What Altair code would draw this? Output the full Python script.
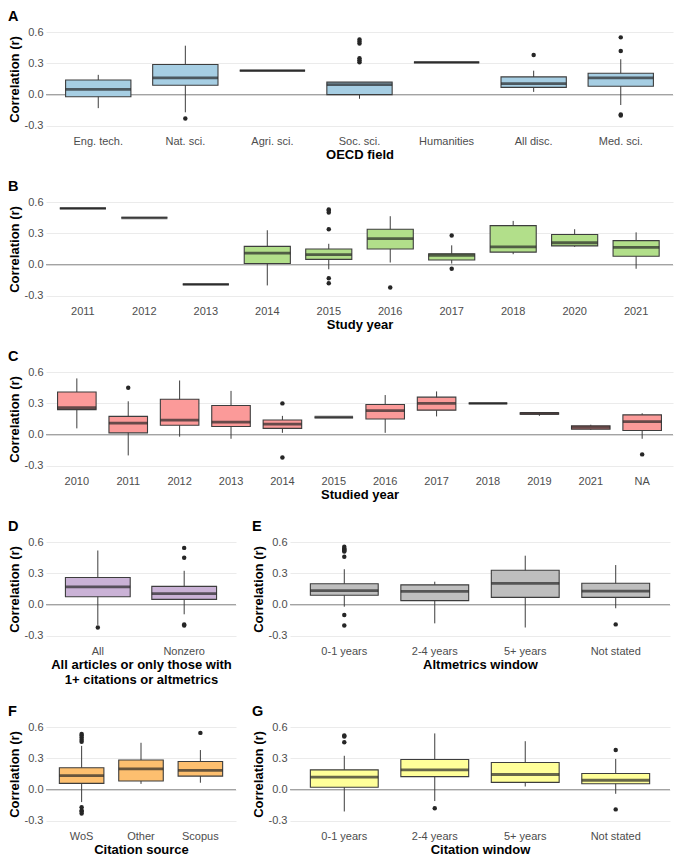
import altair as alt
import pandas as pd

# ---------------- Panel A: OECD field ----------------
a_cats = ["Eng. tech.", "Nat. sci.", "Agri. sci.", "Soc. sci.", "Humanities", "All disc.", "Med. sci."]
a_lo = [-0.13, -0.17, 0.23, -0.04, 0.31, 0.026, -0.10]
a_q1 = [-0.02, 0.09, 0.23, 0.0, 0.31, 0.07, 0.08]
a_med = [0.05, 0.16, 0.23, 0.095, 0.31, 0.105, 0.16]
a_q3 = [0.14, 0.29, 0.23, 0.12, 0.31, 0.17, 0.205]
a_hi = [0.19, 0.47, 0.23, 0.12, 0.31, 0.23, 0.34]
a_out_cat = ["Nat. sci.", "Soc. sci.", "Soc. sci.", "Soc. sci.", "Soc. sci.", "Soc. sci.", "Soc. sci.",
             "All disc.", "Med. sci.", "Med. sci.", "Med. sci.", "Med. sci."]
a_out_val = [-0.23, 0.31, 0.33, 0.35, 0.49, 0.51, 0.53, 0.38, 0.55, 0.42, -0.19, -0.20]

# ---------------- Panel B: Study year ----------------
b_cats = ["2011", "2012", "2013", "2014", "2015", "2016", "2017", "2018", "2020", "2021"]
b_lo = [0.54, 0.45, -0.19, -0.20, -0.045, 0.02, 0.01, 0.10, 0.17, -0.04]
b_q1 = [0.54, 0.45, -0.19, 0.01, 0.05, 0.15, 0.045, 0.12, 0.18, 0.08]
b_med = [0.54, 0.45, -0.19, 0.11, 0.095, 0.25, 0.09, 0.17, 0.21, 0.165]
b_q3 = [0.54, 0.45, -0.19, 0.175, 0.15, 0.34, 0.105, 0.375, 0.29, 0.23]
b_hi = [0.54, 0.45, -0.19, 0.33, 0.20, 0.465, 0.185, 0.42, 0.34, 0.31]
b_out_cat = ["2015", "2015", "2015", "2015", "2015", "2015", "2016", "2017", "2017"]
b_out_val = [0.52, 0.50, 0.53, 0.34, -0.13, -0.18, -0.22, 0.28, -0.04]

# ---------------- Panel C: Studied year ----------------
c_cats = ["2010", "2011", "2012", "2013", "2014", "2015", "2016", "2017", "2018", "2019", "2021", "NA"]
c_lo = [0.06, -0.20, -0.02, -0.04, 0.017, 0.167, 0.017, 0.175, 0.30, 0.18, 0.045, -0.04]
c_q1 = [0.24, 0.017, 0.09, 0.078, 0.06, 0.167, 0.15, 0.235, 0.30, 0.195, 0.052, 0.04]
c_med = [0.26, 0.11, 0.14, 0.12, 0.10, 0.167, 0.23, 0.30, 0.30, 0.205, 0.07, 0.125]
c_q3 = [0.41, 0.175, 0.34, 0.28, 0.14, 0.167, 0.29, 0.36, 0.30, 0.21, 0.085, 0.19]
c_hi = [0.54, 0.32, 0.52, 0.42, 0.18, 0.167, 0.38, 0.415, 0.30, 0.21, 0.095, 0.205]
c_out_cat = ["2011", "2014", "2014", "NA"]
c_out_val = [0.45, 0.30, -0.22, -0.19]

# ---------------- Panel D: All / Nonzero ----------------
d_cats = ["All", "Nonzero"]
d_lo = [-0.195, -0.093]
d_q1 = [0.075, 0.05]
d_med = [0.17, 0.105]
d_q3 = [0.26, 0.175]
d_hi = [0.52, 0.325]
d_out_cat = ["All", "Nonzero", "Nonzero", "Nonzero", "Nonzero"]
d_out_val = [-0.22, 0.545, 0.45, -0.19, -0.20]

# ---------------- Panel E: Altmetrics window ----------------
e_cats = ["0-1 years", "2-4 years", "5+ years", "Not stated"]
e_lo = [-0.02, -0.18, -0.22, -0.035]
e_q1 = [0.09, 0.038, 0.07, 0.07]
e_med = [0.135, 0.128, 0.205, 0.13]
e_q3 = [0.20, 0.19, 0.33, 0.205]
e_hi = [0.34, 0.22, 0.47, 0.38]
e_out_cat = ["0-1 years"] * 8 + ["Not stated"]
e_out_val = [0.555, 0.54, 0.53, 0.52, 0.51, 0.46, -0.10, -0.20, -0.19]

# ---------------- Panel F: Citation source ----------------
f_cats = ["WoS", "Other", "Scopus"]
f_lo = [-0.12, 0.055, 0.066]
f_q1 = [0.06, 0.083, 0.13]
f_med = [0.135, 0.20, 0.185]
f_q3 = [0.21, 0.285, 0.27]
f_hi = [0.42, 0.45, 0.38]
f_out_cat = ["WoS"] * 9 + ["Scopus"]
f_out_val = [0.535, 0.52, 0.50, 0.48, 0.46, -0.17, -0.20, -0.21, -0.23, 0.545]

# ---------------- Panel G: Citation window ----------------
g_cats = ["0-1 years", "2-4 years", "5+ years", "Not stated"]
g_lo = [-0.21, -0.11, 0.03, -0.04]
g_q1 = [0.023, 0.125, 0.07, 0.057]
g_med = [0.12, 0.19, 0.145, 0.09]
g_q3 = [0.19, 0.29, 0.26, 0.155]
g_hi = [0.325, 0.54, 0.465, 0.295]
g_out_cat = ["0-1 years", "0-1 years", "0-1 years", "2-4 years", "Not stated", "Not stated"]
g_out_val = [0.52, 0.51, 0.455, -0.18, 0.38, -0.19]

Y_TICKS = [-0.3, 0.0, 0.3, 0.6]
YDOM = [-0.34, 0.64]
FONT = "Liberation Sans"
EDGE = "#3d3d3d"


def panel(letter, cats, lo, q1, med, q3, hi, out_c, out_v, color, xtitle, w, h):
    box = pd.DataFrame(dict(cat=cats, lo=lo, q1=q1, med=med, q3=q3, hi=hi))
    outs = pd.DataFrame(dict(cat=out_c, v=out_v))
    n = len(cats)
    step = w / (n + 0.2)
    bw = 0.75 * step
    xsc = alt.Scale(domain=cats, paddingInner=0.25, paddingOuter=0.225)
    ysc = alt.Scale(domain=YDOM, nice=False, zero=False)
    yaxis = alt.Axis(values=Y_TICKS, labelExpr="replace(format(datum.value, '.1f'), '\u2212', '-')",
                     title="Correlation (r)")
    xenc = alt.X("cat:N", scale=xsc, sort=cats, title=xtitle,
                 axis=alt.Axis(labelAngle=0))

    zero = alt.Chart(pd.DataFrame({"z": [0.0]})).mark_rule(color="#a3a3a3", strokeWidth=1.1).encode(
        y=alt.Y("z:Q", scale=ysc, axis=yaxis)
    )
    base = alt.Chart(box)
    whisk = base.mark_rule(color=EDGE, strokeWidth=1).encode(
        x=xenc,
        y=alt.Y("lo:Q", scale=ysc, axis=yaxis),
        y2="hi:Q",
    )
    boxes = base.mark_bar(color=color, stroke=EDGE, strokeWidth=1.1).encode(
        x=xenc,
        y=alt.Y("q1:Q", scale=ysc, axis=yaxis),
        y2="q3:Q",
    )
    medians = base.mark_tick(color="#262626", size=bw, thickness=2.8, orient="horizontal").encode(
        x=xenc,
        y=alt.Y("med:Q", scale=ysc, axis=yaxis),
    )
    pts = alt.Chart(outs).mark_circle(color="#262626", size=20, opacity=1).encode(
        x=xenc,
        y=alt.Y("v:Q", scale=ysc, axis=yaxis),
    )
    return alt.layer(zero, whisk, boxes, medians, pts).properties(
        width=w, height=h,
        title=alt.TitleParams(letter, anchor="start", frame="bounds", fontSize=14.5,
                              fontWeight="bold", font=FONT, offset=2, color="#000000"),
    )


H = 102
WF = 627
WD = 190
WE = 380
pA = panel("A", a_cats, a_lo, a_q1, a_med, a_q3, a_hi, a_out_cat, a_out_val, "#a6cee3", "OECD field", WF, H)
pB = panel("B", b_cats, b_lo, b_q1, b_med, b_q3, b_hi, b_out_cat, b_out_val, "#b2df8a", "Study year", WF, H)
pC = panel("C", c_cats, c_lo, c_q1, c_med, c_q3, c_hi, c_out_cat, c_out_val, "#fb9a99", "Studied year", WF, H)
pD = panel("D", d_cats, d_lo, d_q1, d_med, d_q3, d_hi, d_out_cat, d_out_val, "#cab2d6",
           ["All articles or only those with", "1+ citations or altmetrics"], WD, H)
pE = panel("E", e_cats, e_lo, e_q1, e_med, e_q3, e_hi, e_out_cat, e_out_val, "#bebebe", "Altmetrics window", WE, H)
pF = panel("F", f_cats, f_lo, f_q1, f_med, f_q3, f_hi, f_out_cat, f_out_val, "#fdbf6f", "Citation source", WD, H)
pG = panel("G", g_cats, g_lo, g_q1, g_med, g_q3, g_hi, g_out_cat, g_out_val, "#ffff99", "Citation window", WE, H)

chart = alt.vconcat(
    pA, pB, pC,
    alt.hconcat(pD, pE, spacing=15),
    alt.hconcat(pF, pG, spacing=15),
    spacing=17,
).properties(
    padding={"left": 0, "top": 0, "right": 0, "bottom": 0},
).configure_view(stroke=None).configure_axis(
    domain=False, ticks=False, labelFont=FONT, titleFont=FONT,
    labelColor="#4d4d4d", labelFontSize=11, titleFontSize=13, titleFontWeight="bold",
    titleColor="#000000", labelPadding=3,
).configure_axisX(grid=False, titlePadding=2, labelPadding=5).configure_axisY(
    grid=True, gridColor="#ebebeb", gridWidth=1, titlePadding=3,
)

chart.save("out.html", embed_options={"renderer": "svg", "actions": False})
